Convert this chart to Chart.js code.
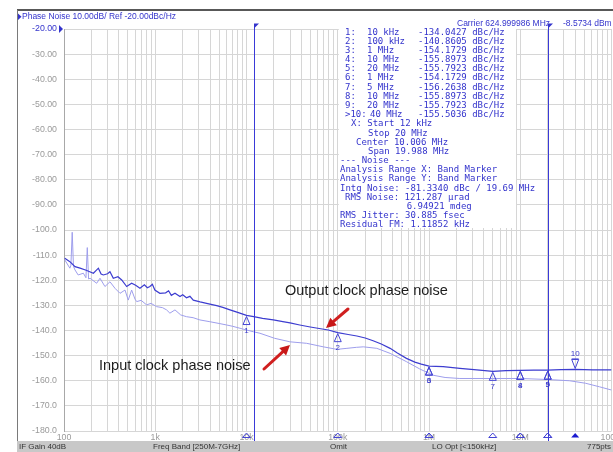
<!DOCTYPE html>
<html><head><meta charset="utf-8">
<script src="https://cdn.jsdelivr.net/npm/chart.js@4/dist/chart.umd.min.js"></script>
<style>html,body{margin:0;padding:0;background:#fff;overflow:hidden}#wrap{position:relative;width:613px;height:452px}</style>
</head><body><div id="wrap"><canvas id="c" width="613" height="452"></canvas></div>
<script>
// ---------- data ----------
const outFreq = [102,116,132,150,175,210,238,255,270,300,319,347,390,429,486,551,610,680,760,820,874,930,990,1123,1300,1400,1500,1645,1866,2000,2200,2400,2611,3100,3650,4710,5500,6590,8000,10000,12000,15000,19700,25000,30000,38300,50000,65000,78800,100000,130000,162000,200000,244000,300000,375000,450000,566000,700000,823000,1000000,1430000,2180000,3340000,5000000,7000000,10000000,14000000,20000000,28000000,40000000,62000000,100000000];
const outVal  = [-111.2,-112.6,-114.6,-115.2,-116.0,-117.2,-115.2,-117.5,-117.9,-117.4,-116.6,-119.2,-118.6,-119.9,-122.5,-121.2,-122.0,-123.2,-121.8,-123.0,-122.5,-121.6,-123.9,-125.2,-125.0,-124.2,-126.0,-125.2,-126.5,-125.8,-127.0,-126.4,-127.9,-128.6,-129.2,-130.1,-130.8,-131.8,-132.8,-134.0,-134.5,-135.2,-135.8,-136.5,-137.0,-137.8,-138.6,-139.3,-139.8,-140.86,-141.6,-142.2,-143.0,-144.1,-145.4,-147.1,-149.0,-151.1,-152.6,-153.4,-154.17,-154.4,-155.1,-155.7,-156.26,-156.0,-155.9,-155.8,-155.79,-155.6,-155.5,-155.7,-155.7];
const inFreq = [102,116,119,123,127,132,143,163,174,180,186,193,228,248,281,319,362,411,466,506,551,600,626,700,804,900,1034,1200,1331,1447,1645,1900,2200,2600,3087,3970,5000,6050,7000,8480,10000,11900,14050,20300,29900,45700,69500,98000,126000,160000,191000,268000,375000,566000,791000,1110000,1500000,2180000,5000000,10000000,20000000,34700000,52000000,73600000,100000000];
const inVal  = [-111.9,-115.2,-114.0,-100.9,-114.5,-115.9,-117.9,-117.2,-119.0,-107.0,-119.5,-119.2,-121.2,-119.2,-122.5,-120.6,-123.2,-125.2,-123.9,-127.9,-123.9,-127.5,-128.5,-128.0,-129.8,-129.2,-130.5,-130.9,-131.8,-133.1,-131.8,-133.8,-134.5,-134.9,-135.8,-136.5,-137.2,-137.8,-138.3,-139.1,-139.8,-140.5,-141.1,-143.1,-144.5,-145.1,-146.5,-147.5,-147.1,-146.7,-146.5,-147.1,-149.1,-152.4,-155.3,-157.8,-158.7,-159.1,-159.1,-159.1,-159.5,-160.0,-161.0,-162.4,-163.7];
const markerFreq  = [1e4,1e5,1e6,1e7,2e7,1e6,5e6,1e7,2e7,4e7];
const markerLabel = ['10 kHz','100 kHz','1 MHz','10 MHz','20 MHz','1 MHz','5 MHz','10 MHz','20 MHz','40 MHz'];
const markerVal   = [-134.0427,-140.8605,-154.1729,-155.8973,-155.7923,-154.1729,-156.2638,-155.8973,-155.7923,-155.5036];
const bandStart = 12000, bandStop = 20000000;
const xDecades = [100,1e3,1e4,1e5,1e6,1e7,1e8];
const xDecadeLabels = ['100','1k','10k','100k','1M','10M','100M'];
const noiseLines = ['X: Start 12 kHz','Stop 20 MHz','Center 10.006 MHz','Span 19.988 MHz','--- Noise ---','Analysis Range X: Band Marker','Analysis Range Y: Band Marker','Intg Noise: -81.3340 dBc / 19.69 MHz','RMS Noise: 121.287 µrad','6.94921 mdeg','RMS Jitter: 30.885 fsec','Residual FM: 1.11852 kHz'];
const noiseX = [351,368,356,368,340,340,340,340,345,406.7,340,340];
const statusTexts = ['IF Gain 40dB','Freq Band [250M-7GHz]','Omit','LO Opt [<150kHz]','775pts'];
const statusX = [19,153,330,432,587];

// ---------- helpers ----------
const BLUE = '#3434cc';
const xGrid = [];
for (let e = 2; e < 8; e++) for (let m = 1; m < 10; m++) xGrid.push(m * Math.pow(10, e));
xGrid.push(1e8);
const outData = outFreq.map((f,i)=>({x:f,y:outVal[i]}));
const inData  = inFreq.map((f,i)=>({x:f,y:inVal[i]}));

function arrow(ctx,x1,y1,x2,y2){
  const a = Math.atan2(y2-y1,x2-x1), L=10, W=5;
  const bx = x2 - L*Math.cos(a), by = y2 - L*Math.sin(a);
  ctx.save();
  ctx.strokeStyle='#d01f1f'; ctx.fillStyle='#c81818'; ctx.lineWidth=3; ctx.lineCap='round';
  ctx.beginPath(); ctx.moveTo(x1,y1); ctx.lineTo(bx,by); ctx.stroke();
  ctx.beginPath(); ctx.moveTo(x2,y2);
  ctx.lineTo(bx + W*Math.sin(a), by - W*Math.cos(a));
  ctx.lineTo(bx - W*Math.sin(a), by + W*Math.cos(a));
  ctx.closePath(); ctx.fill();
  ctx.restore();
}

const deco = {
  id:'deco',
  beforeDatasetsDraw(chart){
    const ctx = chart.ctx;
    ctx.save(); ctx.fillStyle='#fff'; ctx.fillRect(339,27,177,201); ctx.restore();
  },
  afterDraw(chart){
    const ctx = chart.ctx, xs = chart.scales.x, ys = chart.scales.y;
    ctx.save();
    // frame
    ctx.strokeStyle='#202020'; ctx.lineWidth=1.5;
    ctx.beginPath(); ctx.moveTo(17,10); ctx.lineTo(613,10); ctx.stroke();
    ctx.strokeStyle='#7a7a7a'; ctx.lineWidth=1;
    ctx.beginPath(); ctx.moveTo(17.5,10); ctx.lineTo(17.5,441); ctx.stroke();
    // header
    ctx.fillStyle=BLUE;
    ctx.beginPath(); ctx.moveTo(18,13.5); ctx.lineTo(21.5,16.8); ctx.lineTo(18,20); ctx.closePath(); ctx.fill();
    ctx.font='8.5px "Liberation Sans", Arial, sans-serif'; ctx.textBaseline='middle'; ctx.textAlign='left';
    ctx.fillText('Phase Noise 10.00dB/ Ref -20.00dBc/Hz',22,17);
    ctx.fillText('Carrier 624.999986 MHz',457,24);
    ctx.fillText('-8.5734 dBm',563,24);
    // reference level triangle
    const yr = ys.getPixelForValue(-20);
    ctx.beginPath(); ctx.moveTo(59,yr-4); ctx.lineTo(63,yr); ctx.lineTo(59,yr+4); ctx.closePath(); ctx.fill();
    // band marker lines
    ctx.strokeStyle='#3a3ad8'; ctx.lineWidth=1;
    [bandStart,bandStop].forEach(f=>{
      const x = Math.round(xs.getPixelForValue(f))+0.5;
      ctx.beginPath(); ctx.moveTo(x,24); ctx.lineTo(x,441); ctx.stroke();
      ctx.beginPath(); ctx.moveTo(x-0.5,23.5); ctx.lineTo(x+4.5,23.5); ctx.lineTo(x-0.5,28.5); ctx.closePath(); ctx.fill();
    });
    // markers on trace
    ctx.strokeStyle='#4444d4'; ctx.fillStyle='#3a3acc'; ctx.lineWidth=1;
    ctx.font='8px "Liberation Sans", Arial, sans-serif'; ctx.textAlign='center';
    markerFreq.forEach((f,i)=>{
      const x = xs.getPixelForValue(f), y = ys.getPixelForValue(markerVal[i]);
      ctx.beginPath();
      if (i < 9) {
        ctx.moveTo(x,y+1); ctx.lineTo(x-3.5,y+9); ctx.lineTo(x+3.5,y+9); ctx.closePath(); ctx.stroke();
        ctx.fillText(String(i+1),x,y+15);
      } else {
        ctx.moveTo(x,y-1); ctx.lineTo(x-3.5,y-10); ctx.lineTo(x+3.5,y-10); ctx.closePath(); ctx.stroke();
        ctx.beginPath(); ctx.moveTo(x-3.5,y-10.5); ctx.lineTo(x+3.5,y-10.5); ctx.stroke();
        ctx.fillText(String(i+1),x,y-16);
      }
      // axis marker
      ctx.beginPath(); ctx.moveTo(x,433); ctx.lineTo(x-4,437.5); ctx.lineTo(x+4,437.5); ctx.closePath();
      if (i === 9) { ctx.fillStyle='#1a1ad0'; ctx.fill(); ctx.fillStyle='#3a3acc'; } else ctx.stroke();
    });
    // marker table
    ctx.fillStyle=BLUE; ctx.textAlign='left'; ctx.textBaseline='middle';
    ctx.font='9px "DejaVu Sans Mono", monospace';
    const y0 = 32.3, dy = 9.17;
    markerFreq.forEach((f,i)=>{
      const y = y0 + i*dy;
      ctx.fillText(i===9 ? '>10:' : (i+1)+':', 345, y);
      ctx.fillText(markerLabel[i], i===9 ? 370 : 367, y);
      ctx.fillText(markerVal[i].toFixed(4)+' dBc/Hz', 418, y);
    });
    noiseLines.forEach((t,j)=>{ ctx.fillText(t, noiseX[j], y0 + (10+j)*dy); });
    // annotations
    ctx.fillStyle='#1c1c1c'; ctx.font='14.5px "Liberation Sans", Arial, sans-serif';
    ctx.fillText('Output clock phase noise',285,291);
    ctx.fillText('Input clock phase noise',99,365.5);
    arrow(ctx,348,309,326,328);
    arrow(ctx,264,369,290,345);
    // status bar
    ctx.fillStyle='#c8c8c8'; ctx.fillRect(17,441,596,11);
    ctx.fillStyle='#333'; ctx.font='8px "Liberation Sans", Arial, sans-serif'; ctx.textBaseline='middle';
    statusTexts.forEach((t,i)=>ctx.fillText(t,statusX[i],447));
    ctx.restore();
  }
};

new Chart(document.getElementById('c'), {
  type:'line',
  data:{ datasets:[
    {label:'Output clock phase noise', data:outData, borderColor:'#3d3dd0', borderWidth:1.2, pointRadius:0, tension:0},
    {label:'Input clock phase noise', data:inData, borderColor:'#9e9eec', borderWidth:1, pointRadius:0, tension:0}
  ]},
  options:{
    responsive:false, animation:false, devicePixelRatio:1,
    layout:{padding:{left:0,right:1.5,top:29,bottom:0}},
    plugins:{legend:{display:false}, tooltip:{enabled:false}},
    scales:{
      x:{ type:'logarithmic', min:100, max:1e8,
        afterBuildTicks(s){ s.ticks = xGrid.map(v=>({value:v})); },
        afterFit(s){ s.height=21; s.paddingLeft=0; s.paddingRight=0; s.paddingTop=0; s.paddingBottom=0; },
        grid:{color:'#d6d6d6', lineWidth:1, drawTicks:false},
        border:{display:false},
        ticks:{ autoSkip:false, maxRotation:0, padding:1, color:'#9a9a9a',
          font:{family:'"Liberation Sans", Arial, sans-serif', size:8.8},
          callback(v){ const k = xDecades.indexOf(v); return k>=0 ? xDecadeLabels[k] : ''; } }
      },
      y:{ min:-180, max:-20,
        afterFit(s){ s.width=64; s.paddingTop=0; s.paddingBottom=0; },
        grid:{color:'#d6d6d6', lineWidth:1, drawTicks:false},
        border:{display:true, color:'#a8a8a8'},
        ticks:{ stepSize:10, padding:7,
          color:(c)=> (c.tick && c.tick.value===-20) ? BLUE : '#9a9a9a',
          font:{family:'"Liberation Sans", Arial, sans-serif', size:8.8},
          callback(v){ return v >= -90 ? v.toFixed(2) : v.toFixed(1); } }
      }
    }
  },
  plugins:[deco]
});
</script></body></html>
